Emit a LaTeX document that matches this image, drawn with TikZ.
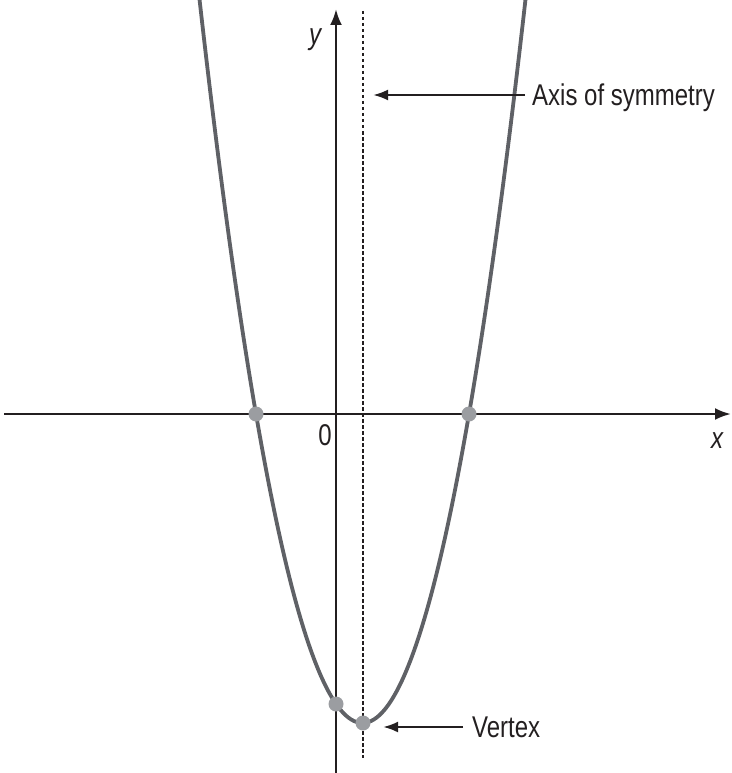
\documentclass[tikz,border=0pt]{standalone}
\usepackage{fontspec}
\setmainfont{Liberation Sans}[FakeStretch=0.80]
\usetikzlibrary{arrows.meta}
\definecolor{axiscol}{HTML}{231F20}
\definecolor{curvecol}{HTML}{5F6166}
\definecolor{dotcol}{HTML}{9B9DA1}
\tikzset{
  axisline/.style={draw=axiscol, line width=2.6pt, -{Latex[length=16pt,width=12pt]}},
  pointer/.style={draw=axiscol, line width=2.6pt, -{Latex[length=15pt,width=11pt]}},
  symline/.style={draw=axiscol, line width=2.6pt, dash pattern=on 3.5pt off 2.5pt},
  curve/.style={draw=curvecol, line width=3.8pt},
  dot/.style={circle, fill=dotcol, minimum size=15pt, inner sep=0pt},
  lbl/.style={font=\fontsize{30pt}{32pt}\selectfont, text=axiscol, inner sep=0pt}
}
\begin{document}
\begin{tikzpicture}[x=1pt, y=-1pt]
\useasboundingbox (0,0) rectangle (731,773);
% axes
\coordinate (xs) at (4,414);
\coordinate (xe) at (731,414);
\coordinate (ys) at (336,773);
\coordinate (ye) at (336,9);
\draw[axisline] (xs) -- (xe);
\draw[axisline] (ys) -- (ye);
% axis of symmetry
\coordinate (ds) at (363,11);
\coordinate (de) at (363,758);
\draw[symline] (ds) -- (de);
% parabola
\begin{scope}
\clip (0,0) rectangle (731,773);
\draw[curve] plot[domain=-168:168, samples=121, smooth] ({362.5+\x},{723-(0.02724*\x)*\x});
\end{scope}
% points
\node[dot] (r1) at (256,414) {};
\node[dot] (r2) at (469,414) {};
\node[dot] (yi) at (336,704) {};
\node[dot] (vx) at (363,723) {};
% labels
\node[lbl, font=\fontsize{30pt}{32pt}\selectfont\itshape] (ylab) at (315,40) {y};
\node[lbl, font=\fontsize{30pt}{32pt}\selectfont\itshape] (xlab) at (717,441) {x};
\node[lbl] (zero) at (325,435) {0};
\node[lbl, anchor=base west, inner xsep=7pt] (axlab) at (525,106) {Axis of symmetry};
\coordinate (axtip) at (373,95);
\draw[pointer] (axlab.west |- axtip) -- (axtip);
\node[lbl, anchor=base west, inner xsep=9pt] (vlab) at (463,737) {Vertex};
\coordinate (vtip) at (383,727);
\draw[pointer] (vlab.west |- vtip) -- (vtip);
\end{tikzpicture}
\end{document}
